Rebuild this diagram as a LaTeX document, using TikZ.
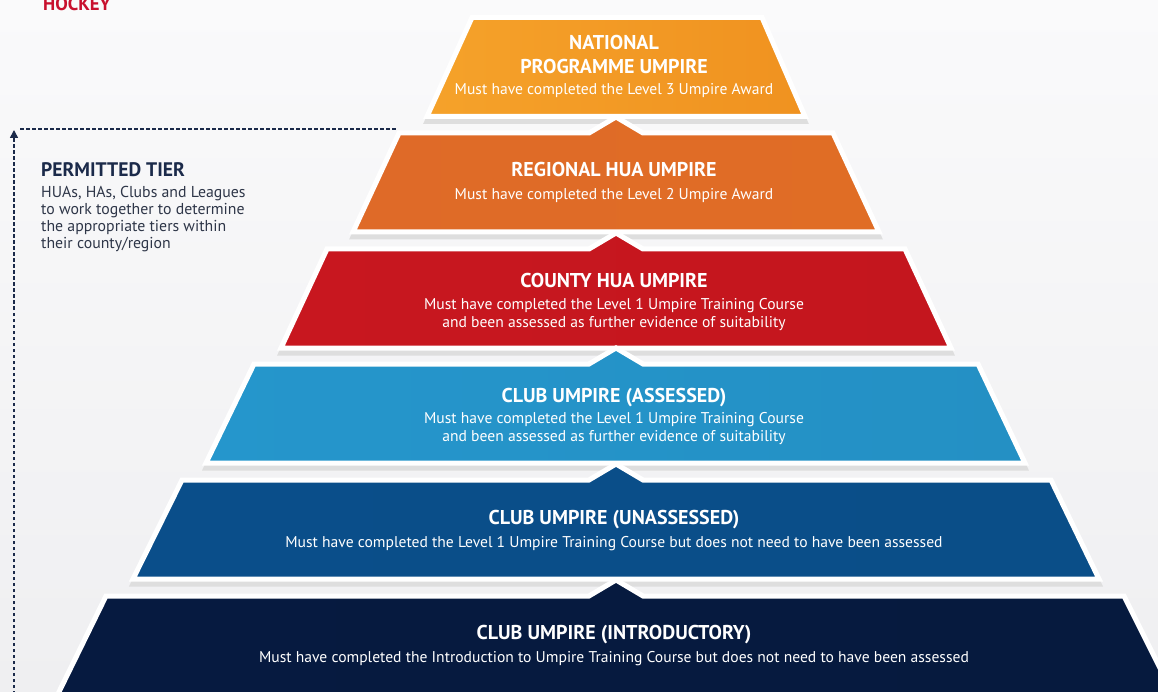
\documentclass[tikz,border=0pt]{standalone}
\usepackage{fontspec}
\setmainfont{PT Sans}
\usetikzlibrary{arrows.meta}
\definecolor{navy}{HTML}{1B2A4A}
\definecolor{permgray}{HTML}{2E3648}
\definecolor{hockeyred}{HTML}{C8102E}
\definecolor{bgtop}{HTML}{FAFAFB}
\definecolor{bgbot}{HTML}{EFEFF1}
\definecolor{orange1l}{HTML}{F5A22A}
\definecolor{orange1m}{HTML}{F8A51E}
\definecolor{orange1r}{HTML}{F09220}
\definecolor{orange2l}{HTML}{DF6A28}
\definecolor{orange2m}{HTML}{E8772B}
\definecolor{orange2r}{HTML}{E06D25}
\definecolor{red3l}{HTML}{C8171F}
\definecolor{red3m}{HTML}{D41A24}
\definecolor{red3r}{HTML}{C4161E}
\definecolor{blue4l}{HTML}{2596CC}
\definecolor{blue4m}{HTML}{2BB0E5}
\definecolor{blue4r}{HTML}{2490C4}
\definecolor{blue5l}{HTML}{0A4E8A}
\definecolor{blue5m}{HTML}{0A62A6}
\definecolor{blue5r}{HTML}{0A4E88}
\definecolor{navy6l}{HTML}{061A40}
\definecolor{navy6m}{HTML}{0D3A68}
\definecolor{navy6r}{HTML}{061A3E}
\begin{document}
\begin{tikzpicture}[x=1pt,y=-1pt,
    tierbox/.style={draw=white, line width=5pt, line join=miter,
      preaction={fill=black!13, draw=black!13, line width=5pt, transform canvas={yshift=-5pt}}},
    tiertitle/.style={font=\bfseries\fontsize{20}{24}\selectfont, text=white, anchor=base, align=center, inner sep=0pt},
    tiertext/.style={font=\fontsize{15.6}{17.3}\selectfont, text=white, anchor=base, align=center, inner sep=0pt},
    permline/.style={navy, line width=1.6pt, dash pattern=on 3.5pt off 2.5pt}]
  \useasboundingbox (0,0) rectangle (1158,692);
  \clip (0,0) rectangle (1158,692);
  \shade[top color=bgtop, bottom color=bgbot] (0,0) rectangle (1158,692);

  \path[tierbox, left color=orange1l, middle color=orange1m, right color=orange1r]
    (472,17.5) -- (762,17.5) -- (805,116.5) -- (427,116.5) -- cycle;
  \path[tierbox, left color=orange2l, middle color=orange2m, right color=orange2r]
    (399,133) -- (589,133) -- (616,117) -- (643,133) -- (833,133) -- (879,232) -- (353,232) -- cycle;
  \path[tierbox, left color=red3l, middle color=red3m, right color=red3r]
    (327,249) -- (589,249) -- (616,233) -- (643,249) -- (905,249) -- (951,348) -- (281,348) -- cycle;
  \path[tierbox, left color=blue4l, middle color=blue4m, right color=blue4r]
    (254,364) -- (589,364) -- (616,348) -- (643,364) -- (978,364) -- (1025,463) -- (206,463) -- cycle;
  \path[tierbox, left color=blue5l, middle color=blue5m, right color=blue5r]
    (182,480) -- (589,480) -- (616,464) -- (643,480) -- (1051,480) -- (1099,579) -- (133,579) -- cycle;
  \path[tierbox, left color=navy6l, middle color=navy6m, right color=navy6r]
    (106,596) -- (589,596) -- (616,580) -- (643,596) -- (1124,596) -- (1175,698) -- (56,698) -- cycle;

  \node[tiertitle] (national) at (614,74) {NATIONAL\\PROGRAMME UMPIRE};
  \node[tiertext] (nationalSub) at (614,95) {Must have completed the Level 3 Umpire Award};
  \node[tiertitle] (regional) at (614,177) {REGIONAL HUA UMPIRE};
  \node[tiertext] (regionalSub) at (614,200) {Must have completed the Level 2 Umpire Award};
  \node[tiertitle] (county) at (614,288) {COUNTY HUA UMPIRE};
  \node[tiertext] (countySub) at (614,327) {Must have completed the Level 1 Umpire Training Course\\and been assessed as further evidence of suitability};
  \node[tiertitle] (assessed) at (614,402) {CLUB UMPIRE (ASSESSED)};
  \node[tiertext] (assessedSub) at (614,441) {Must have completed the Level 1 Umpire Training Course\\and been assessed as further evidence of suitability};
  \node[tiertitle] (unassessed) at (614,524) {CLUB UMPIRE (UNASSESSED)};
  \node[tiertext] (unassessedSub) at (614,547) {Must have completed the Level 1 Umpire Training Course but does not need to have been assessed};
  \node[tiertitle] (intro) at (614,639) {CLUB UMPIRE (INTRODUCTORY)};
  \node[tiertext] (introSub) at (614,662) {Must have completed the Introduction to Umpire Training Course but does not need to have been assessed};

  \node[font=\bfseries\fontsize{18.7}{20}\selectfont, text=hockeyred, anchor=base west, inner sep=0pt] (hockey) at (43,11) {HOCKEY};
  \node[font=\bfseries\fontsize{19.6}{20}\selectfont, text=navy, anchor=base west, inner sep=0pt] (permTitle) at (41,177) {PERMITTED TIER};
  \node[font=\fontsize{15.8}{17}\selectfont, text=permgray, anchor=base west, align=left, inner sep=0pt] (permText) at (41,249)
    {HUAs, HAs, Clubs and Leagues\\to work together to determine\\the appropriate tiers within\\their county/region};

  \coordinate (permBase) at (14,700);
  \coordinate (permTip) at (14,130);
  \coordinate (permCorner) at (20,129);
  \coordinate (regionalCorner) at (396,129);
  \draw[permline, -{Triangle[length=8pt, width=8pt]}] (permBase) -- (permTip);
  \draw[permline] (permCorner) -- (regionalCorner);
\end{tikzpicture}
\end{document}
